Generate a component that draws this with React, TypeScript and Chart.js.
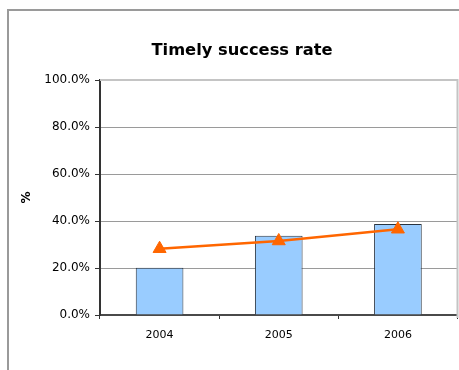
import React, { useEffect, useRef } from "react";
import { Chart, registerables } from "chart.js";

Chart.register(...registerables);

const categories = ["2004", "2005", "2006"];
const barValues = [20.1, 33.7, 38.7];
const lineValues = [28.2, 31.5, 36.5];
const chartTitle = "Timely success rate";
const yAxisTitle = "%";

const FONT = "'DejaVu Sans', Verdana, sans-serif";
const CANVAS_W = 466;

const framePlugin = {
  id: "frame",
  beforeDraw(chart: any) {
    const ctx = chart.ctx;
    ctx.save();
    ctx.fillStyle = "#ffffff";
    ctx.fillRect(0, 0, chart.width, chart.height);
    ctx.fillStyle = "#9a9a9a";
    ctx.fillRect(7, 9, 2, chart.height - 9);
    ctx.fillRect(7, 9, chart.width - 7, 2);
    // chart title, centred in the (wider) Excel frame
    ctx.fillStyle = "#000";
    ctx.font = "bold 16.3px " + FONT;
    ctx.textAlign = "center";
    ctx.textBaseline = "alphabetic";
    ctx.fillText(chartTitle, 242, 55);
    ctx.restore();
  },
  beforeDatasetsDraw(chart: any) {
    const { ctx, chartArea } = chart;
    ctx.save();
    ctx.strokeStyle = "#c4c4c4";
    ctx.lineWidth = 2;
    ctx.beginPath();
    ctx.moveTo(chartArea.left, chartArea.top);
    ctx.lineTo(chartArea.right, chartArea.top);
    ctx.lineTo(chartArea.right, chartArea.bottom + 3);
    ctx.stroke();
    ctx.restore();
  },
};

export default function App() {
  const ref = useRef<HTMLCanvasElement | null>(null);

  useEffect(() => {
    if (!ref.current) return;
    const chart = new Chart(ref.current, {
      data: {
        labels: categories,
        datasets: [
          {
            type: "line",
            label: "Line",
            data: lineValues,
            borderColor: "#ff6600",
            backgroundColor: "#ff6600",
            borderWidth: 2.5,
            pointStyle: "triangle",
            pointRadius: 7.5,
            pointBackgroundColor: "#ff6600",
            pointBorderColor: "#ff6600",
            pointBorderWidth: 1,
            tension: 0,
            order: 0,
          },
          {
            type: "bar",
            label: "Bar",
            data: barValues,
            backgroundColor: "#99ccff",
            borderColor: "#2a3440",
            borderWidth: 1,
            categoryPercentage: 1,
            barPercentage: 0.4,
            order: 1,
          },
        ],
      } as any,
      options: {
        animation: false,
        responsive: false,
        maintainAspectRatio: false,
        layout: { padding: { left: 0, right: 2.5, top: 80, bottom: 0 } },
        plugins: {
          legend: { display: false },
          tooltip: { enabled: false },
          title: { display: false },
        },
        scales: {
          x: {
            type: "category",
            offset: true,
            grid: {
              display: true,
              drawOnChartArea: false,
              offset: true,
              tickLength: 4,
              tickColor: "#333",
            },
            border: { display: true, color: "#4a4a4a", width: 2 },
            ticks: {
              color: "#000",
              font: { family: FONT, size: 11 },
              padding: 10,
              maxRotation: 0,
            },
            afterFit(scale: any) {
              scale.height = 55;
              scale.paddingLeft = 0;
              scale.paddingRight = 0;
            },
          },
          y: {
            type: "linear",
            min: 0,
            max: 100,
            ticks: {
              stepSize: 20,
              color: "#000",
              font: { family: FONT, size: 12 },
              padding: 5,
              callback: (v: any) => Number(v).toFixed(1) + "%",
            },
            grid: {
              color: (c: any) => (c.tick && c.tick.value === 100 ? "rgba(0,0,0,0)" : "#9a9a9a"),
              tickColor: "#333",
              tickLength: 5,
              lineWidth: 1,
            },
            border: { display: true, color: "#333", width: 2 },
            title: {
              display: true,
              text: yAxisTitle,
              color: "#000",
              font: { family: FONT, size: 12, weight: "bold" },
              padding: { top: 20, bottom: 0 },
            },
            afterFit(scale: any) {
              scale.width = 100;
              scale.paddingLeft = 0;
              scale.paddingRight = 0;
            },
          },
        },
      } as any,
      plugins: [framePlugin],
    });
    return () => chart.destroy();
  }, []);

  return (
    <div style={{ position: "absolute", left: 0, top: 0, width: 459, height: 370, overflow: "hidden" }}>
      <canvas ref={ref} width={CANVAS_W} height={370} style={{ display: "block" }} />
    </div>
  );
}
